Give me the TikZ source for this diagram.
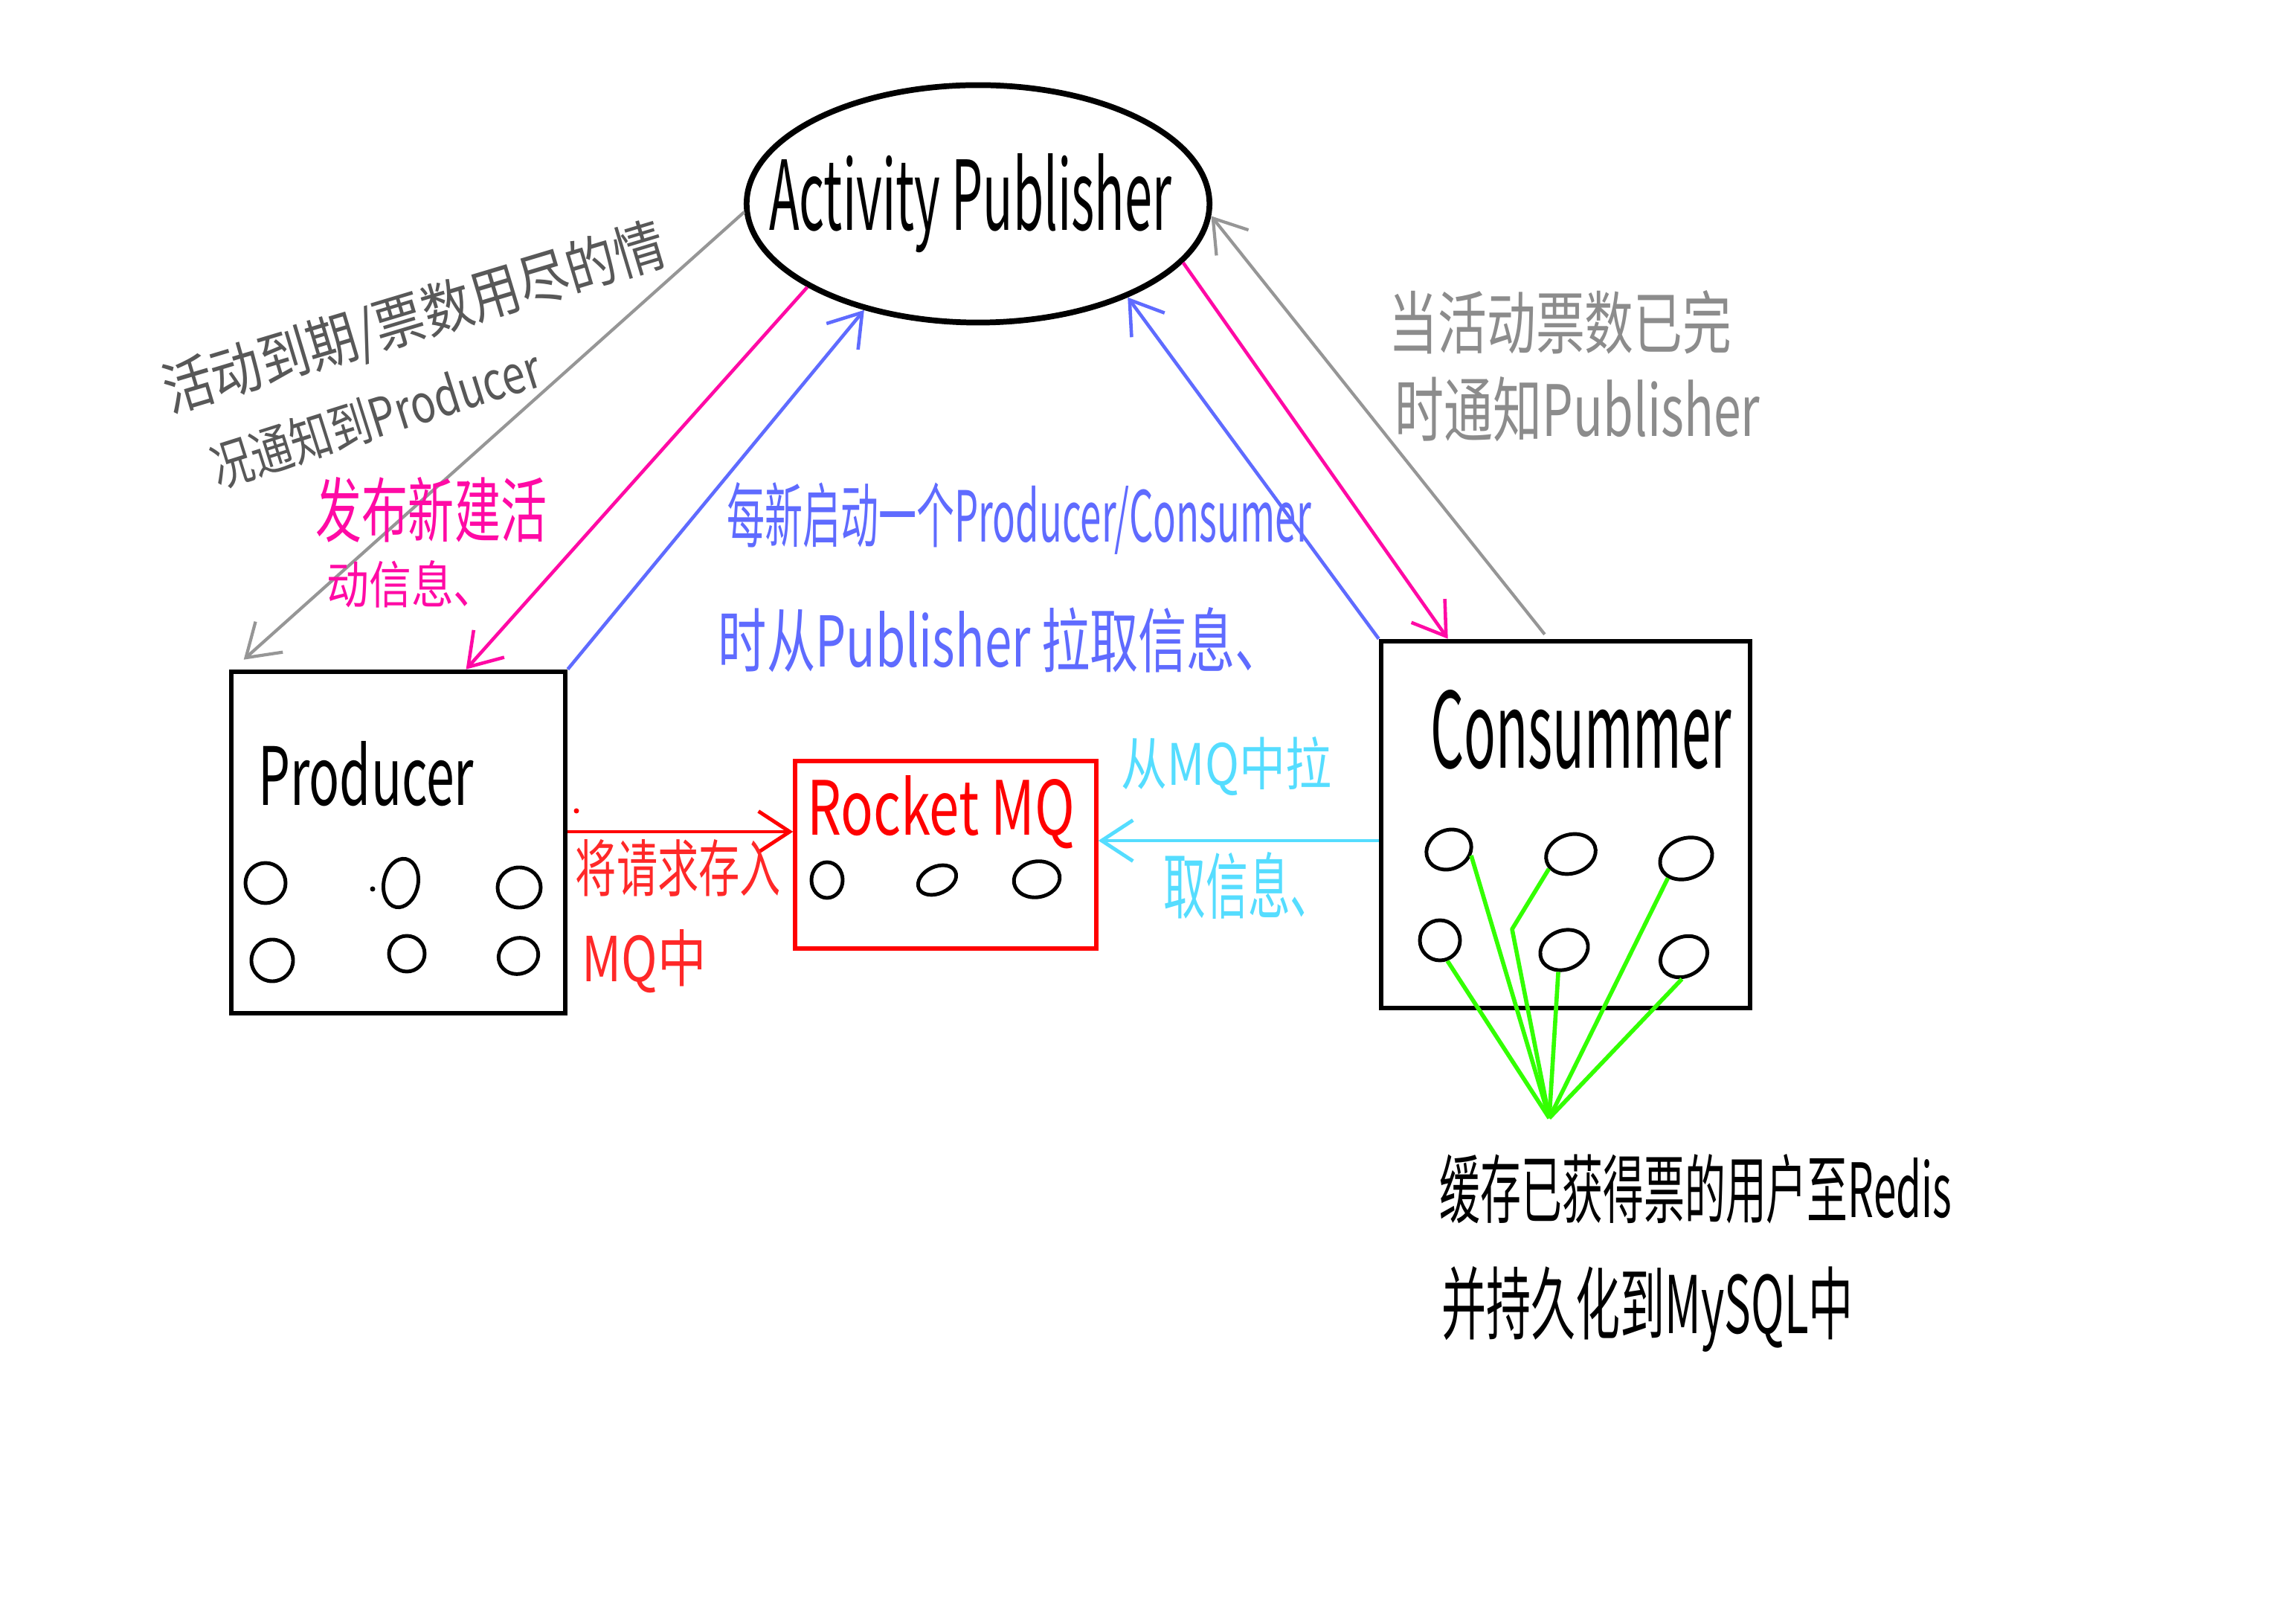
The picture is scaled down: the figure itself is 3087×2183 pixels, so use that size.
\documentclass[tikz,border=0pt]{standalone}
\usepackage{graphicx}
\usepackage{fontspec}
\setmainfont{Noto Sans CJK SC}
\usetikzlibrary{arrows.meta,calc,shapes.geometric}
\definecolor{grayline}{RGB}{150,150,150}
\definecolor{graydark}{RGB}{88,88,88}
\definecolor{graytext}{RGB}{140,140,140}
\definecolor{pinkc}{RGB}{255,10,165}
\definecolor{bluec}{RGB}{95,107,255}
\definecolor{redc}{RGB}{255,0,0}
\definecolor{redtext}{RGB}{255,40,40}
\definecolor{cyanc}{RGB}{85,221,255}
\definecolor{greenc}{RGB}{51,255,0}
\newcommand{\hw}[3]{\resizebox{#1}{#2}{#3}}
\begin{document}
\begin{tikzpicture}[x=0.01cm,y=-0.01cm,
  lbl/.style={inner sep=0pt, outer sep=0pt},
  frame/.style={draw, rectangle, inner sep=0pt, line width=1.8pt},
  pubshape/.style={draw, ellipse, inner sep=0pt, line width=2.2pt, minimum width=6.22cm, minimum height=3.19cm},
  blob/.style={draw, ellipse, inner sep=0pt, line width=1.4pt},
  tipb/.style={-{Straight Barb[length=0.42cm,width=0.55cm]}},
  garr/.style={tipb, draw=grayline, line width=1.2pt},
  parr/.style={tipb, draw=pinkc, line width=1.3pt},
  barr/.style={tipb, draw=bluec, line width=1.3pt},
  rarr/.style={tipb, draw=redc, line width=1.4pt},
  carr/.style={tipb, draw=cyanc, line width=1.4pt},
  gline/.style={draw=greenc, line width=1.6pt, line join=round},
  dotc/.style={circle, fill, inner sep=0pt, minimum size=0.07cm}
]
\fill[white] (0,0) rectangle (3087,2183);
\useasboundingbox (0,0) rectangle (3087,2183);

% main shapes
\node[pubshape] (pub) at (1315,274) {};
\node[lbl, anchor=base west] (publbl) at (1034,310) {\hw{5.41cm}{1.03cm}{Activity Publisher}};

\node[frame, minimum width=4.49cm, minimum height=4.59cm] (prod) at (535.5,1132.5) {};
\node[lbl, anchor=base west] (prodlbl) at (347,1083) {\hw{2.9cm}{0.86cm}{Producer}};

\node[frame, minimum width=4.96cm, minimum height=4.93cm] (cons) at (2105,1108.5) {};
\node[lbl, anchor=base west] (conslbl) at (1923,1033) {\hw{4.05cm}{1.05cm}{Consummer}};

\node[frame, draw=redc, line width=1.5pt, minimum width=4.05cm, minimum height=2.52cm] (mq) at (1271.5,1149) {};
\node[lbl, anchor=base west, text=redc] (mqlbl) at (1085,1123) {\hw{3.6cm}{0.8cm}{Rocket MQ}};

% producer circles
\node[blob, minimum width=0.54cm, minimum height=0.54cm] (p1) at (357,1187) {};
\node[blob, minimum width=0.46cm, minimum height=0.66cm, rotate=-12] (p2) at (539,1187) {};
\node[blob, minimum width=0.58cm, minimum height=0.54cm] (p3) at (698,1193) {};
\node[blob, minimum width=0.56cm, minimum height=0.56cm] (p4) at (366,1291) {};
\node[blob, minimum width=0.48cm, minimum height=0.48cm] (p5) at (547,1282) {};
\node[blob, minimum width=0.54cm, minimum height=0.48cm, rotate=20] (p6) at (697,1285) {};
\node[dotc] (pdot) at (501,1195) {};

% mq circles
\node[blob, minimum width=0.42cm, minimum height=0.48cm] (m1) at (1112,1183) {};
\node[blob, minimum width=0.54cm, minimum height=0.36cm, rotate=25] (m2) at (1260,1183) {};
\node[blob, minimum width=0.62cm, minimum height=0.48cm, rotate=10] (m3) at (1394,1182) {};

% consumer circles
\node[blob, minimum width=0.62cm, minimum height=0.52cm, rotate=25] (c1) at (1948,1142) {};
\node[blob, minimum width=0.68cm, minimum height=0.52cm, rotate=18] (c2) at (2112,1148) {};
\node[blob, minimum width=0.72cm, minimum height=0.54cm, rotate=20] (c3) at (2267,1154) {};
\node[blob, minimum width=0.54cm, minimum height=0.54cm] (c4) at (1936,1264) {};
\node[blob, minimum width=0.66cm, minimum height=0.52cm, rotate=22] (c5) at (2103,1277) {};
\node[blob, minimum width=0.66cm, minimum height=0.52cm, rotate=28] (c6) at (2264,1286) {};

% green fan
\coordinate (conv) at (2083,1503);
\coordinate (bend) at (2033,1249);
\draw[gline] (c1.-40) -- (conv);
\draw[gline] (c2.196) -- (bend) -- (conv);
\draw[gline] (c3.207) -- (conv);
\draw[gline] (c4.-70) -- (conv);
\draw[gline] (c5.-127) -- (conv);
\draw[gline] (c6.-123) -- (conv);

% arrows between publisher and producer / consumer
\coordinate (g1) at ($(prod.north west)+(20,-13)$);
\draw[garr] (pub.182) -- (g1);
\draw[parr] (pub.206) -- ($(prod.north west)!0.70!(prod.north east)$);
\draw[barr] (prod.north east) -- (pub.223);
\draw[barr] (cons.north west) -- (pub.328);
\draw[parr] (pub.344) -- ($(cons.north west)!0.185!(cons.north east)$);
\draw[garr] ($(cons.north west)!0.444!(cons.north east)+(0,-6)$) -- (pub.357);

% producer -> MQ, consumer -> MQ
\coordinate (ry) at (0,1118);
\coordinate (cy) at (0,1130);
\draw[rarr] (prod.east |- ry) -- (mq.west |- ry);
\draw[carr] (cons.west |- cy) -- (mq.east |- cy);
\node[dotc, fill=redc] (rdot) at (775,1090) {};

% labels
\node[lbl, text=graydark, rotate=16.7] (gl1) at (557,429) {\hw{7.0cm}{0.66cm}{活动到期/票数用尽的情}};
\node[lbl, text=graydark, rotate=17.5] (gl2) at (505,561) {\hw{4.6cm}{0.6cm}{况通知到Producer}};

\node[lbl, text=pinkc] (pk1) at (580,685) {\hw{3.1cm}{0.8cm}{发布新建活}};
\node[lbl, text=pinkc] (pk2) at (553,785) {\hw{2.27cm}{0.58cm}{动信息、}};

\node[lbl, text=bluec] (bl1) at (1370,697) {\hw{7.85cm}{0.8cm}{每新启动一个Producer/Consumer}};
\node[lbl, text=bluec] (bl2) at (1346,860) {\hw{7.6cm}{0.8cm}{时从Publisher\ 拉取信息、}};

\node[lbl, text=graytext] (gr1) at (2098,433) {\hw{4.6cm}{0.78cm}{当活动票数已完}};
\node[lbl, text=graytext] (gr2) at (2121,550) {\hw{4.9cm}{0.8cm}{时通知Publisher}};

\node[lbl, text=redtext] (rd1) at (912,1167) {\hw{2.76cm}{0.7cm}{将请求存入}};
\node[lbl, text=redtext] (rd2) at (866,1292) {\hw{1.67cm}{0.7cm}{MQ中}};

\node[lbl, text=cyanc] (cy1) at (1649,1030) {\hw{2.82cm}{0.65cm}{从MQ中拉}};
\node[lbl, text=cyanc] (cy2) at (1678,1190) {\hw{2.27cm}{0.82cm}{取信息、}};

\node[lbl] (bk1) at (2280,1598) {\hw{6.88cm}{0.85cm}{缓存已获得票的用户至Redis}};
\node[lbl] (bk2) at (2215,1760) {\hw{5.53cm}{0.9cm}{并持久化到MySQL中}};
\end{tikzpicture}
\end{document}
